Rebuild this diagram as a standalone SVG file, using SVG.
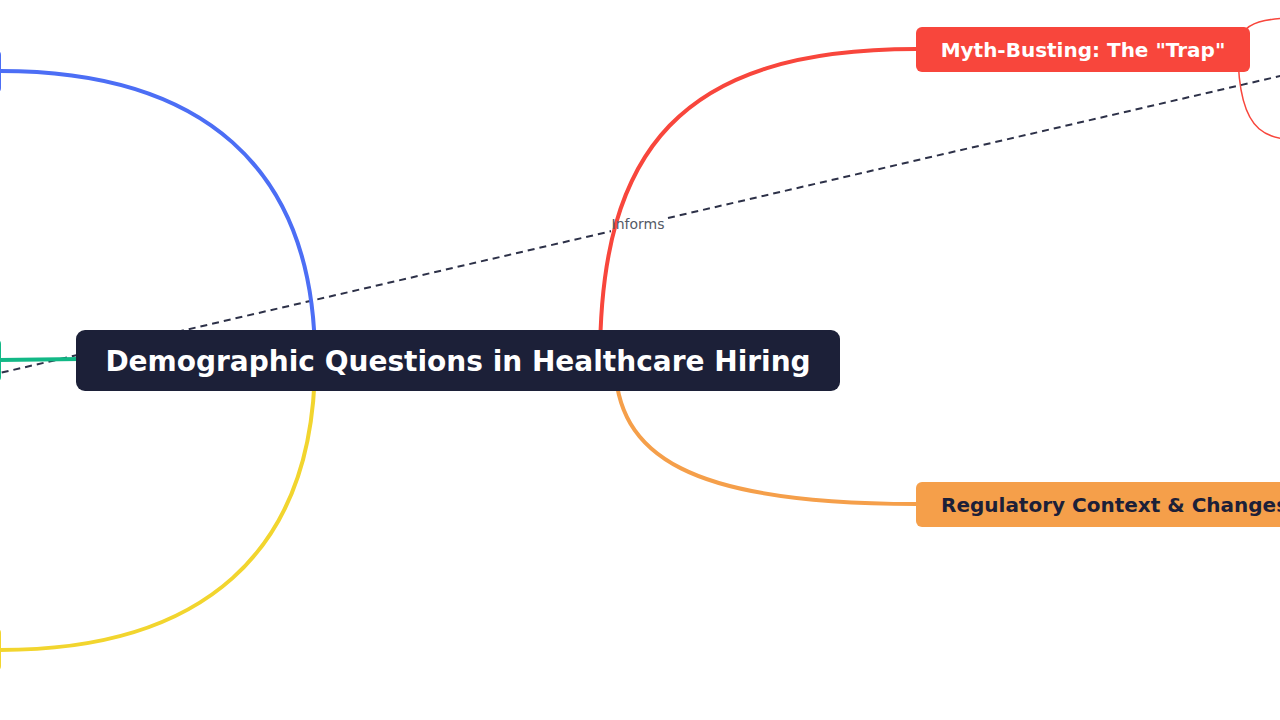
<svg xmlns="http://www.w3.org/2000/svg" width="1280" height="720" viewBox="0 0 1280 720">
<style>
.branch{fill:none;stroke-width:4;stroke-linecap:round}
.thin{fill:none;stroke-width:1.5}
.link{fill:none;stroke:#2d3148;stroke-width:2;stroke-dasharray:7 5}
.lbl{font-family:"DejaVu Sans","Liberation Sans",sans-serif;font-size:14px;fill:#555a66}
.t{font-family:"DejaVu Sans","Liberation Sans",sans-serif;font-weight:bold}
</style>
<rect width="1280" height="720" fill="#ffffff"/>
<g id="connectors">
  <path class="link" d="M-10,375.3 L1290,73.7"/>
  <rect x="611" y="215" width="54" height="18" fill="#ffffff"/>
  <path class="branch" stroke="#4c6ef5" d="M315,360 C315,165 200,71 0,71"/>
  <path class="branch" stroke="#12b886" d="M0,360 L80,359"/>
  <path class="branch" stroke="#f2d52e" d="M315,360 C315,555 200,650 0,650"/>
  <path class="branch" stroke="#f8463c" d="M600,360 C600,150 680,49 916,49"/>
  <path class="branch" stroke="#f59f4a" d="M615,360 C615,457 691,504 916,504"/>
  <path class="thin" stroke="#f8463c" d="M1238,50 C1238,18 1270,18 1310,18"/>
  <path class="thin" stroke="#f8463c" d="M1238,50 C1238,140 1270,140 1310,140"/>
  <text class="lbl" x="638" y="229" text-anchor="middle">Informs</text>
</g>
<g id="node-left-blue"><rect x="-300" y="49" width="301" height="45" rx="6" fill="#4c6ef5"/></g>
<g id="node-left-green"><rect x="-300" y="338" width="301" height="45" rx="6" fill="#12b886"/></g>
<g id="node-left-yellow"><rect x="-300" y="627" width="301" height="45" rx="6" fill="#f2d52e"/></g>
<g id="node-center">
  <rect x="76" y="330" width="764" height="61" rx="9" fill="#1c2038"/>
  <text class="t" x="458" y="371" font-size="28" fill="#ffffff" text-anchor="middle">Demographic Questions in Healthcare Hiring</text>
</g>
<g id="node-myth">
  <rect x="916" y="27" width="334" height="45" rx="6" fill="#f8463c"/>
  <text class="t" x="1083" y="56.5" font-size="20" fill="#ffffff" text-anchor="middle">Myth-Busting: The "Trap"</text>
</g>
<g id="node-regulatory">
  <rect x="916" y="482" width="420" height="45" rx="6" fill="#f59f4a"/>
  <text class="t" x="941" y="511.5" font-size="20" fill="#1c2038">Regulatory Context &amp; Changes</text>
</g>
</svg>
